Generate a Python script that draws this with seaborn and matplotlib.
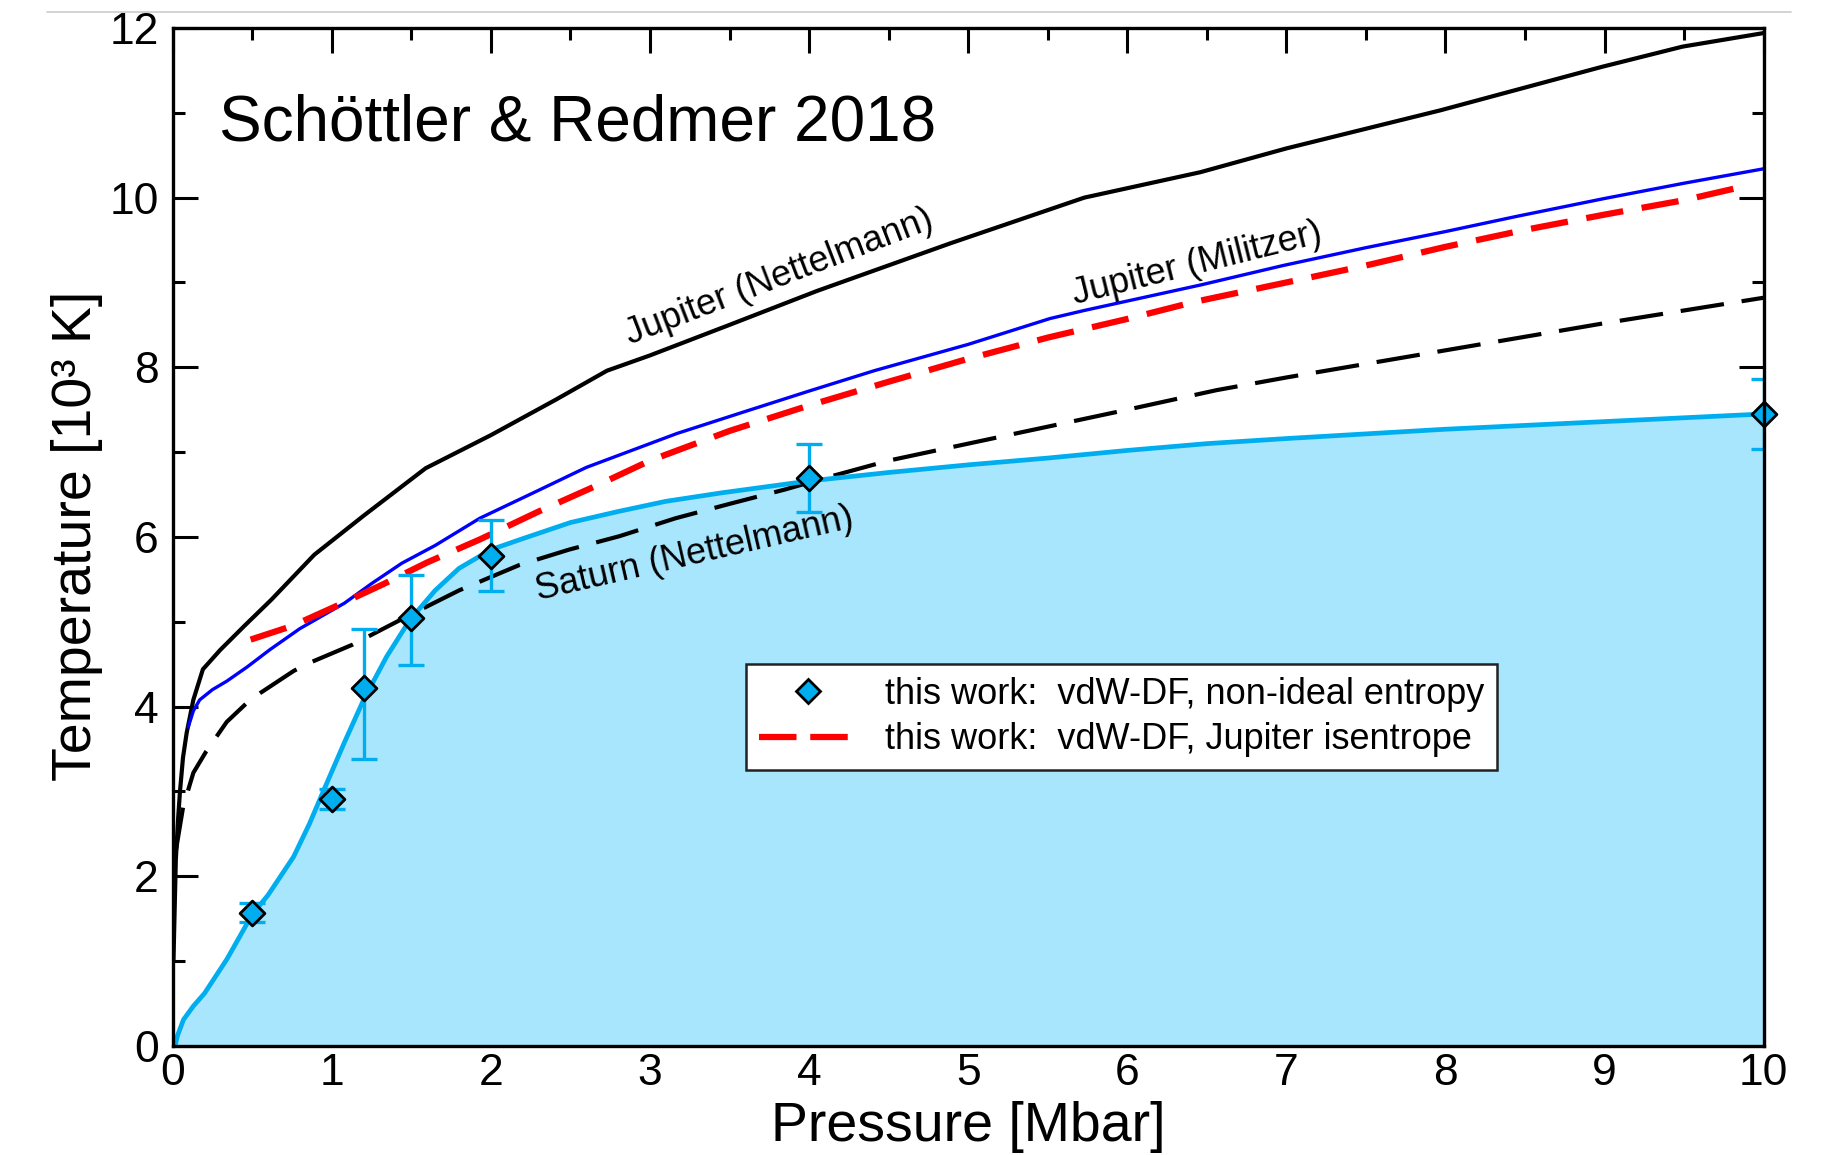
import numpy as np
import pandas as pd
import matplotlib
matplotlib.use("Agg")
import matplotlib.pyplot as plt
from matplotlib.lines import Line2D
from matplotlib.ticker import MultipleLocator
import seaborn as sns

# ---- data: pressure [Mbar], temperature [10^3 K] ----
jup_nett_P = [0.005, 0.02, 0.035, 0.046, 0.065, 0.088, 0.13, 0.19, 0.30, 0.45, 0.62, 0.89,
              1.2, 1.59, 2.0, 2.41, 2.73, 3.0, 3.5, 4.05, 4.886, 5.73, 6.46, 7.0, 7.97,
              8.98, 9.49, 10.0]
jup_nett_T = [1.0, 2.2, 2.7, 3.0, 3.4, 3.69, 4.08, 4.44, 4.67, 4.95, 5.26, 5.79,
              6.25, 6.81, 7.2, 7.62, 7.96, 8.14, 8.5, 8.9, 9.46, 10.0, 10.30, 10.58, 11.03,
              11.54, 11.78, 11.94]

jup_mil_P = [0.098, 0.13, 0.17, 0.25, 0.34, 0.47, 0.61, 0.8, 1.08, 1.25, 1.44, 1.65, 1.93,
             2.3, 2.6, 3.17, 3.6, 4.0, 4.41, 5.0, 5.515, 5.73, 6.46, 6.98, 7.5, 8.0, 8.45,
             9.0, 9.5, 10.0]
jup_mil_T = [3.76, 3.95, 4.08, 4.2, 4.3, 4.47, 4.67, 4.92, 5.22, 5.45, 5.69, 5.9, 6.22,
             6.55, 6.82, 7.22, 7.48, 7.72, 7.96, 8.27, 8.575, 8.67, 8.97, 9.2, 9.41, 9.6, 9.78,
             9.99, 10.17, 10.34]

sat_nett_P = [0.02, 0.066, 0.13, 0.21, 0.34, 0.47, 0.55, 0.76, 0.84, 1.13, 1.47, 1.80, 2.18,
              2.49, 2.81, 3.16, 3.5, 3.85, 4.09, 4.5, 5.0, 5.5, 6.0, 6.56, 7.0, 7.5, 8.0,
              8.5, 9.0, 9.5, 10.0]
sat_nett_T = [2.3, 2.82, 3.22, 3.47, 3.82, 4.05, 4.16, 4.42, 4.5, 4.73, 5.06, 5.37, 5.67,
              5.85, 6.01, 6.22, 6.39, 6.56, 6.69, 6.9, 7.1, 7.3, 7.5, 7.73, 7.88, 8.04, 8.2,
              8.36, 8.52, 8.67, 8.82]

isen_P = [0.49, 0.75, 1.01, 1.32, 1.6, 1.93, 2.3, 2.67, 3.0, 3.5, 4.0, 4.5, 5.0, 5.5, 6.0,
          6.42, 7.0, 7.5, 8.0, 8.5, 9.0, 9.5, 9.87]
isen_T = [4.79, 4.95, 5.17, 5.44, 5.7, 5.97, 6.3, 6.61, 6.9, 7.25, 7.55, 7.83, 8.1, 8.35,
          8.57, 8.77, 9.0, 9.2, 9.42, 9.62, 9.8, 9.97, 10.13]

fit_P = [0.015, 0.03, 0.068, 0.13, 0.2, 0.34, 0.5, 0.6, 0.76, 0.86, 0.96, 1.08, 1.2, 1.345,
         1.49, 1.65, 1.8, 2.0, 2.2, 2.5, 2.8, 3.1, 3.45, 4.0, 4.5, 5.0, 5.5, 6.0, 6.5, 7.0,
         8.0, 9.0, 10.0]
fit_T = [0.0, 0.12, 0.31, 0.47, 0.62, 1.02, 1.55, 1.78, 2.23, 2.62, 3.06, 3.58, 4.08, 4.59,
         5.02, 5.37, 5.63, 5.85, 5.98, 6.17, 6.30, 6.42, 6.52, 6.66, 6.76, 6.85, 6.93, 7.02,
         7.10, 7.16, 7.27, 7.36, 7.45]

pts_P = [0.5, 1.0, 1.2, 1.5, 2.0, 4.0, 10.0]
pts_T = [1.57, 2.91, 4.22, 5.05, 5.78, 6.70, 7.45]
pts_err_lo = [0.11, 0.12, 0.84, 0.56, 0.42, 0.41, 0.41]
pts_err_hi = [0.11, 0.12, 0.69, 0.50, 0.42, 0.39, 0.41]

x_ticks = list(range(0, 11))
y_ticks = [0, 2, 4, 6, 8, 10, 12]

label_points = "this work:  vdW-DF, non-ideal entropy"
label_isen = "this work:  vdW-DF, Jupiter isentrope"

# ---- style ----
sns.set_theme(style="ticks")
plt.rcParams["font.family"] = ["Liberation Sans", "DejaVu Sans"]
plt.rcParams.update({
    "text.color": "black",
    "axes.labelcolor": "black",
    "xtick.color": "black",
    "ytick.color": "black",
    "axes.linewidth": 2.4,
})

CYAN = "#00AEEF"
FILL = "#A8E6FD"

fig = plt.figure(figsize=(18.29, 11.55), dpi=100)
ax = fig.add_axes([0.0944, 0.0944, 0.8699, 0.8814])
ax.set_facecolor("white")

fit = pd.DataFrame({"P": fit_P, "T": fit_T})

# shaded region under the fitted curve
ax.fill_between(fit["P"], fit["T"], 0, color=FILL, lw=0, zorder=1)

sns.lineplot(x=sat_nett_P, y=sat_nett_T, ax=ax, color="black", lw=3.0,
             linestyle=(0, (10.5, 4.3)), sort=False, estimator=None, zorder=2)
sns.lineplot(x=jup_nett_P, y=jup_nett_T, ax=ax, color="black", lw=3.0,
             sort=False, estimator=None, zorder=2)
sns.lineplot(x=jup_mil_P, y=jup_mil_T, ax=ax, color="#0000FF", lw=2.4,
             sort=False, estimator=None, zorder=3)
sns.lineplot(x=isen_P, y=isen_T, ax=ax, color="#FF0000", lw=4.5,
             linestyle=(0, (6.0, 3.0)), sort=False, estimator=None, zorder=3)
sns.lineplot(data=fit, x="P", y="T", ax=ax, color=CYAN, lw=3.4,
             sort=False, estimator=None, zorder=3)

ax.errorbar(pts_P, pts_T, yerr=[pts_err_lo, pts_err_hi], fmt="none", ecolor=CYAN,
            elinewidth=2.4, capsize=9.5, capthick=2.4, zorder=4)
sns.scatterplot(x=pts_P, y=pts_T, ax=ax, marker="D", s=160, color=CYAN,
                edgecolor="black", linewidth=2.0, zorder=6, clip_on=False)

# ---- axes ----
ax.set_xlim(0, 10)
ax.set_ylim(0, 12)
ax.set_xticks(x_ticks)
ax.set_yticks(y_ticks)
ax.xaxis.set_minor_locator(MultipleLocator(0.5))
ax.yaxis.set_minor_locator(MultipleLocator(1))
ax.tick_params(which="both", direction="in", top=True, right=True, color="black",
               width=2.2, labelcolor="black")
ax.tick_params(which="major", length=18, labelsize=32)
ax.tick_params(which="minor", length=8.5)
ax.tick_params(axis="y", which="major", pad=10)
ax.tick_params(axis="x", which="major", pad=5)
for s in ax.spines.values():
    s.set_color("black")
    s.set_linewidth(2.4)
    s.set_zorder(7)

ax.set_xlabel("Pressure [Mbar]", fontsize=40, color="black")
ax.set_ylabel("Temperature [10³ K]", fontsize=40, color="black")
ax.xaxis.label.set_va("baseline")
ax.xaxis.set_label_coords(0.5, -0.093)
ax.yaxis.label.set_va("baseline")
ax.yaxis.set_label_coords(-0.0513, 0.5016)

# ---- annotations ----
ax.text(0.0293, 0.889, "Schöttler & Redmer 2018", transform=ax.transAxes,
        fontsize=46, ha="left", va="baseline", color="black")
ax.text(3.81, 9.06, "Jupiter (Nettelmann)", fontsize=26, rotation=21,
        rotation_mode="anchor", ha="center", va="center", color="black")
ax.text(6.44, 9.22, "Jupiter (Militzer)", fontsize=26, rotation=14,
        rotation_mode="anchor", ha="center", va="center", color="black")
ax.text(3.28, 5.80, "Saturn (Nettelmann)", fontsize=26, rotation=13,
        rotation_mode="anchor", ha="center", va="center", color="black")

# ---- legend ----
h_pts = Line2D([], [], ls="none", marker="D", markersize=12.5, markerfacecolor=CYAN,
               markeredgecolor="black", markeredgewidth=2.0)
h_isen = Line2D([], [], color="#FF0000", lw=4.5, linestyle=(0, (6.0, 2.2)))
leg = ax.legend([h_pts, h_isen], [label_points, label_isen], loc="lower left",
                bbox_to_anchor=(0.3604, 0.271), fontsize=26, frameon=True,
                fancybox=False, framealpha=1, edgecolor="#222222", handlelength=2.75,
                handletextpad=0.75, labelspacing=0.3, borderpad=0.35, borderaxespad=0)
leg.get_frame().set_linewidth(1.8)
leg.set_zorder(8)
for t in leg.get_texts():
    t.set_color("black")

# thin rule across the top of the page
fig.add_artist(Line2D([0.0257, 0.979], [0.9899, 0.9899], transform=fig.transFigure,
                      color="#cccccc", lw=1.2))

fig.savefig("out.png", dpi=100, facecolor="white")
